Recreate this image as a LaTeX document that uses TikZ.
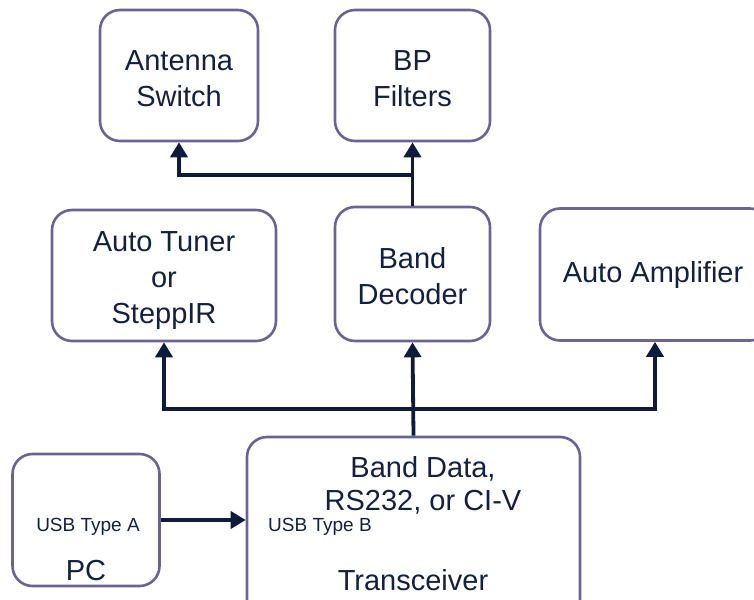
\documentclass[tikz,border=0pt]{standalone}
\usepackage{fontspec}
\setmainfont{Liberation Sans}
\usetikzlibrary{arrows.meta}
\definecolor{boxline}{HTML}{6A6496}
\definecolor{wire}{HTML}{0E1B3D}
\definecolor{ink}{HTML}{14203F}
\tikzset{
  block/.style={draw=boxline, line width=2.6pt, rounded corners=20pt,
    inner sep=0pt},
  caption/.style={text=ink, align=center, inner sep=0pt,
    font=\fontsize{29}{36}\selectfont},
  note/.style={text=ink, inner sep=0pt, align=center},
  big/.style={font=\fontsize{29}{33}\selectfont},
  small/.style={font=\fontsize{19}{22}\selectfont},
  conn/.style={draw=wire, line width=3.8pt, -{Triangle[width=17pt,length=15pt]}},
  bus/.style={draw=wire, line width=3.8pt,
    {Triangle[width=17pt,length=15pt]}-{Triangle[width=17pt,length=15pt]}}
}
\begin{document}
\begin{tikzpicture}[x=1pt, y=-1pt]
  \useasboundingbox (0,0) rectangle (754,599);
  \clip (0,0) rectangle (754,599);

  % top row
  \node[block, minimum width=158pt, minimum height=131pt,
    label={[caption,yshift=-3pt]center:Antenna\\Switch}] (ant) at (179,75.5) {};
  \node[block, minimum width=155pt, minimum height=131pt,
    label={[caption,yshift=-3pt]center:BP\\Filters}] (bp) at (412.5,75.5) {};

  % middle row
  \node[block, minimum width=224pt, minimum height=131pt,
    label={[caption,yshift=-5pt]center:Auto Tuner\\or\\SteppIR}] (at) at (164,275.5) {};
  \node[block, minimum width=155pt, minimum height=134pt,
    label={[caption,yshift=-2pt]center:Band\\Decoder}] (bd) at (412.5,274) {};
  \node[block, minimum width=230pt, minimum height=132pt,
    label={[caption,xshift=-2pt]center:Auto Amplifier}] (amp) at (655,274.5) {};

  % bottom row
  \node[block, minimum width=147pt, minimum height=132pt] (pc) at (86,520) {};
  \node[note, small] (usba) at (88,527) {USB Type A};
  \node[note, big] (pcname) at (86,571) {PC};

  \node[block, minimum width=333pt, minimum height=206pt] (tr) at (413.5,540) {};
  \node[note, big] (trdata) at (423,485) {Band Data,\\RS232, or CI-V};
  \node[note, small, anchor=west] (usbb) at (268,527) {USB Type B};
  \node[note, big] (trname) at (413,580) {Transceiver};

  % connectors
  \draw[conn] (bd.north) -- (bp.south);
  \coordinate (j1) at (412.5,175);
  \draw[conn] (j1) -| (ant.south);

  \coordinate (j2) at (412.5,409);
  \draw[conn] (tr.north) -- (bd.south);
  \draw[bus] (at.south) -- (at.south |- j2) -- (amp.south |- j2) -- (amp.south);

  \draw[conn] (pc.east) -- (pc.east -| tr.west);
\end{tikzpicture}
\end{document}
